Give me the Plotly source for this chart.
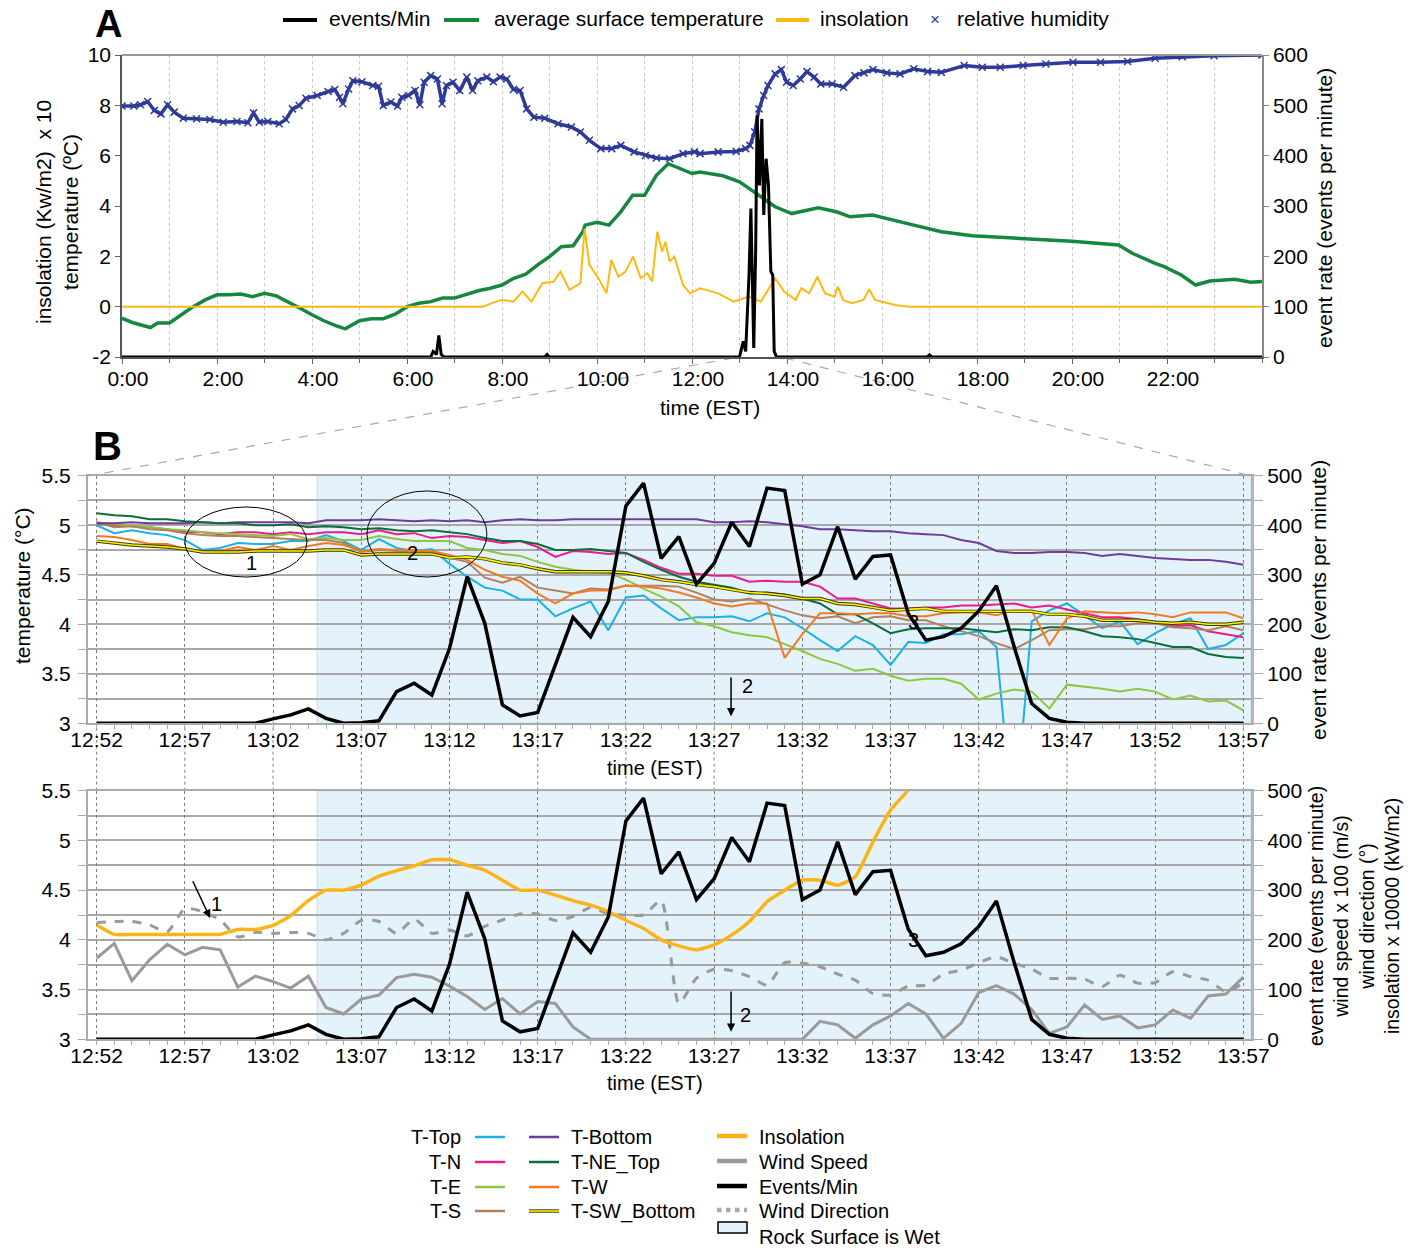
import plotly.graph_objects as go

FONT = "Liberation Sans, Arial, Helvetica, sans-serif"
W, H = 1412, 1248


def fx(x):
    return x / W


def fy(y):
    return 1 - y / H


# ---------------- Panel A data (hours since 0:00) ----------------
hum_h = [0, 0.25, 0.39, 0.54, 0.68, 0.82, 0.96, 1.1, 1.29, 1.57, 1.85, 2.13, 2.42, 2.65, 2.77, 2.89, 3.07, 3.31,
         3.45, 3.59, 3.73, 3.87, 4.11, 4.34, 4.48, 4.58, 4.65, 4.77, 4.86, 5.05, 5.28, 5.4, 5.5, 5.66, 5.8, 5.89,
         6.03, 6.17, 6.27, 6.36, 6.5, 6.64, 6.74, 6.83, 6.97, 7.11, 7.26, 7.38, 7.49, 7.68, 7.82, 7.96, 8.1, 8.24,
         8.38, 8.52, 8.67, 8.9, 9.18, 9.46, 9.65, 9.84, 10.08, 10.31, 10.5, 10.78, 11.02, 11.25, 11.53, 11.81,
         12.05, 12.17, 12.55, 12.93, 13.13, 13.22, 13.32, 13.41, 13.51, 13.6, 13.75, 13.88, 13.99, 14.13, 14.28,
         14.42, 14.57, 14.71, 14.95, 15.19, 15.43, 15.62, 15.81, 16.1, 16.38, 16.67, 16.96, 17.25, 17.73, 18.11,
         18.49, 18.97, 19.45, 20.02, 20.6, 21.17, 21.75, 22.32, 22.99, 24.0]
hum_v = [7.97, 7.97, 8.02, 8.15, 7.8, 7.66, 8.02, 7.73, 7.49, 7.47, 7.44, 7.33, 7.36, 7.31, 7.7, 7.33, 7.36, 7.27,
         7.44, 7.86, 7.99, 8.28, 8.39, 8.55, 8.63, 8.32, 8.06, 8.65, 8.98, 8.94, 8.79, 8.76, 7.99, 8.13, 7.97, 8.32,
         8.39, 8.59, 8.02, 8.92, 9.18, 9.05, 8.06, 8.79, 8.92, 8.59, 9.12, 8.59, 8.98, 9.12, 8.94, 9.12, 9.05, 8.63,
         8.59, 7.86, 7.53, 7.49, 7.27, 7.14, 6.94, 6.61, 6.28, 6.28, 6.41, 6.15, 6.01, 5.91, 5.88, 6.08, 6.15,
         6.08, 6.15, 6.17, 6.28, 6.41, 6.94, 7.86, 8.39, 8.79, 9.25, 9.42, 8.92, 8.79, 9.05, 9.34, 9.12, 8.85,
         8.85, 8.72, 9.18, 9.29, 9.42, 9.29, 9.25, 9.45, 9.34, 9.31, 9.58, 9.51, 9.51, 9.58, 9.64, 9.71, 9.71,
         9.74, 9.87, 9.93, 9.97, 10.0]

temp_h = [0, 0.25, 0.5, 0.6, 0.75, 1.0, 1.25, 1.5, 1.75, 2.0, 2.25, 2.5, 2.75, 3.0, 3.25, 3.5, 3.75, 4.0, 4.25,
          4.5, 4.7, 5.0, 5.25, 5.5, 5.75, 6.0, 6.25, 6.5, 6.75, 7.0, 7.25, 7.5, 7.75, 8.0, 8.25, 8.5, 8.75, 9.0,
          9.25, 9.5, 9.7, 9.75, 10.0, 10.25, 10.5, 10.75, 11.0, 11.25, 11.5, 11.75, 12.0, 12.17, 12.65, 13.0,
          13.2, 13.5, 13.75, 14.1, 14.47, 14.66, 15.04, 15.33, 15.8, 16.2, 16.67, 17.25, 17.9, 18.9, 20.0, 20.98,
          21.27, 21.75, 21.94, 22.3, 22.6, 22.9, 23.43, 23.76, 24.0]
temp_v = [-0.46, -0.65, -0.78, -0.83, -0.65, -0.65, -0.32, 0.0, 0.27, 0.47, 0.47, 0.5, 0.4, 0.53, 0.43, 0.2,
          -0.06, -0.32, -0.56, -0.75, -0.88, -0.56, -0.48, -0.48, -0.3, 0.0, 0.14, 0.2, 0.34, 0.34, 0.5, 0.63,
          0.73, 0.86, 1.13, 1.29, 1.66, 1.99, 2.38, 2.42, 2.98, 3.24, 3.35, 3.24, 3.77, 4.43, 4.43, 5.22, 5.68,
          5.49, 5.29, 5.35, 5.2, 4.96, 4.69, 4.3, 3.97, 3.7, 3.84, 3.93, 3.77, 3.57, 3.64, 3.44, 3.24, 2.98, 2.82,
          2.71, 2.6, 2.45, 2.12, 1.72, 1.59, 1.26, 0.86, 1.02, 1.09, 0.97, 1.0]

ins_h = [0, 7.6, 7.77, 8.0, 8.24, 8.43, 8.62, 8.85, 9.09, 9.23, 9.42, 9.65, 9.74, 9.84, 10.03, 10.2, 10.3, 10.45,
         10.6, 10.76, 10.92, 11.06, 11.16, 11.27, 11.37, 11.44, 11.53, 11.63, 11.81, 11.96, 12.17, 12.55, 12.88,
         13.2, 13.45, 13.75, 13.94, 14.18, 14.3, 14.47, 14.64, 14.8, 15.0, 15.07, 15.18, 15.37, 15.61, 15.73,
         15.85, 16.04, 16.28, 16.57, 24]
ins_v = [0, 0, 0.13, 0.27, 0.2, 0.6, 0.2, 0.93, 1.0, 1.39, 0.67, 0.93, 3.1, 1.66, 1.13, 0.53, 1.85, 1.19, 1.39,
         1.99, 1.13, 1.33, 1.0, 2.98, 2.18, 2.58, 1.79, 1.99, 0.86, 0.53, 0.73, 0.53, 0.2, 0.4, 0.2, 1.13, 0.6,
         0.27, 0.73, 0.53, 1.19, 0.53, 0.4, 0.8, 0.27, 0.14, 0.27, 0.69, 0.27, 0.18, 0.07, 0.0, 0.0]

evA_h = [0, 6.5, 6.55, 6.62, 6.67, 6.72, 6.78, 8.9, 8.95, 9.0, 13.0, 13.08, 13.13, 13.2, 13.24, 13.3, 13.34,
         13.37, 13.42, 13.47, 13.51, 13.56, 13.61, 13.66, 13.7, 13.73, 13.78, 16.95, 17.0, 17.05, 24]
evA_v = [0, 0, 11, 5, 43, 5, 0, 0, 5, 0, 0, 31, 11, 163, 295, 18, 209, 480, 341, 473, 282, 394, 341, 170, 163,
         11, 0, 0, 4, 0, 0]

hour_ticks = [0, 2, 4, 6, 8, 10, 12, 14, 16, 18, 20, 22]
hour_labels = ["0:00", "2:00", "4:00", "6:00", "8:00", "10:00", "12:00", "14:00", "16:00", "18:00", "20:00",
               "22:00"]

# ---------------- Panels B/C data (minutes after 12:52) ----------------
minutes = list(range(66))
minute_ticks = [0, 5, 10, 15, 20, 25, 30, 35, 40, 45, 50, 55, 60, 65]
minute_labels = ["12:52", "12:57", "13:02", "13:07", "13:12", "13:17", "13:22", "13:27", "13:32", "13:37",
                 "13:42", "13:47", "13:52", "13:57"]
wet_start = 12.5

t_top = [5.00, 4.92, 4.95, 4.92, 4.90, 4.85, 4.75, 4.77, 4.82, 4.81, 4.81,
         4.84, 4.84, 4.90, 4.84, 4.75, 4.86, 4.77, 4.74, 4.76, 4.61, 4.48,
         4.37, 4.34, 4.25, 4.25, 4.08, 4.16, 4.23, 3.94, 4.27, 4.29, 4.16,
         4.04, 4.07, 4.07, 4.08, 4.03, 4.11, 4.07, 3.96, 3.84, 3.73, 3.88,
         3.79, 3.59, 3.82, 3.81, 3.90, 3.90, 3.93, 3.77, 1.90, 4.03, 4.14,
         4.21, 4.09, 3.96, 4.03, 3.80, 3.91, 4.00, 4.06, 3.75, 3.79, 3.91]
t_n = [5.02, 5.00, 4.99, 4.98, 4.96, 4.93, 4.93, 4.91, 4.93, 4.93, 4.91,
       4.93, 4.91, 4.93, 4.93, 4.91, 4.95, 4.91, 4.92, 4.87, 4.89, 4.88,
       4.85, 4.82, 4.84, 4.78, 4.68, 4.74, 4.73, 4.71, 4.72, 4.65, 4.57,
       4.51, 4.51, 4.49, 4.49, 4.43, 4.44, 4.43, 4.43, 4.38, 4.26, 4.26,
       4.21, 4.16, 4.16, 4.17, 4.17, 4.19, 4.19, 4.20, 4.21, 4.17, 4.19,
       4.15, 4.11, 4.07, 4.07, 4.05, 4.02, 3.98, 3.99, 3.93, 3.90, 3.87]
t_e = [5.03, 5.01, 5.00, 4.98, 4.96, 4.95, 4.93, 4.92, 4.91, 4.90, 4.89,
       4.91, 4.86, 4.87, 4.85, 4.85, 4.89, 4.86, 4.84, 4.84, 4.84, 4.77,
       4.75, 4.71, 4.69, 4.63, 4.58, 4.55, 4.53, 4.52, 4.45, 4.36, 4.28,
       4.18, 4.02, 3.98, 3.92, 3.89, 3.87, 3.80, 3.73, 3.65, 3.60, 3.53,
       3.55, 3.48, 3.43, 3.45, 3.45, 3.40, 3.24, 3.30, 3.34, 3.32, 3.15,
       3.39, 3.37, 3.35, 3.32, 3.35, 3.32, 3.24, 3.28, 3.22, 3.23, 3.13]
t_s = [5.03, 4.98, 4.99, 4.96, 4.95, 4.92, 4.90, 4.89, 4.89, 4.88, 4.87,
       4.86, 4.85, 4.85, 4.82, 4.73, 4.75, 4.74, 4.74, 4.74, 4.67, 4.63,
       4.47, 4.42, 4.48, 4.37, 4.34, 4.31, 4.36, 4.35, 4.39, 4.39, 4.39,
       4.38, 4.32, 4.25, 4.23, 4.26, 4.20, 4.14, 4.09, 4.06, 4.08, 4.01,
       4.07, 4.08, 4.04, 4.04, 3.98, 3.93, 3.88, 3.81, 3.75, 3.84, 3.94,
       3.95, 3.95, 3.98, 3.98, 4.01, 4.01, 3.97, 3.96, 3.94, 3.98, 3.94]
t_bottom = [5.02, 5.02, 5.03, 5.02, 5.02, 5.02, 5.03, 5.02, 5.03, 5.03, 5.03,
            5.03, 5.02, 5.05, 5.05, 5.05, 5.06, 5.05, 5.04, 5.05, 5.04, 5.05,
            5.03, 5.05, 5.06, 5.05, 5.05, 5.06, 5.06, 5.06, 5.06, 5.06, 5.06,
            5.06, 5.06, 5.03, 5.03, 5.04, 5.03, 5.01, 4.99, 4.96, 4.96, 4.95,
            4.94, 4.94, 4.92, 4.91, 4.90, 4.85, 4.82, 4.74, 4.72, 4.72, 4.73,
            4.73, 4.72, 4.69, 4.71, 4.69, 4.67, 4.66, 4.65, 4.65, 4.63, 4.60]
t_ne_top = [5.12, 5.10, 5.09, 5.06, 5.06, 5.04, 5.03, 5.02, 5.02, 5.00, 5.00,
            5.01, 4.98, 4.99, 4.98, 4.96, 4.97, 4.95, 4.94, 4.95, 4.93, 4.91,
            4.87, 4.84, 4.84, 4.81, 4.75, 4.75, 4.76, 4.74, 4.72, 4.63, 4.55,
            4.48, 4.43, 4.40, 4.37, 4.31, 4.32, 4.30, 4.26, 4.21, 4.10, 4.10,
            4.01, 3.91, 3.95, 3.96, 3.96, 3.96, 3.94, 3.92, 3.95, 3.94, 3.97,
            3.97, 3.93, 3.88, 3.87, 3.85, 3.81, 3.77, 3.77, 3.70, 3.67, 3.66]
t_w = [4.89, 4.88, 4.85, 4.81, 4.81, 4.76, 4.74, 4.74, 4.78, 4.75, 4.79,
       4.75, 4.79, 4.82, 4.80, 4.74, 4.76, 4.75, 4.75, 4.74, 4.70, 4.65,
       4.55, 4.48, 4.44, 4.31, 4.21, 4.31, 4.34, 4.34, 4.39, 4.38, 4.36,
       4.32, 4.27, 4.21, 4.18, 4.21, 4.21, 3.66, 3.90, 4.11, 4.11, 4.10,
       4.11, 4.11, 4.08, 4.08, 4.11, 4.12, 4.12, 4.09, 4.14, 4.14, 3.79,
       4.06, 4.13, 4.12, 4.11, 4.12, 4.10, 4.07, 4.12, 4.12, 4.12, 4.06]
t_sw_bottom = [4.84, 4.82, 4.80, 4.79, 4.78, 4.76, 4.73, 4.73, 4.73, 4.74, 4.74,
               4.74, 4.74, 4.75, 4.75, 4.70, 4.71, 4.71, 4.71, 4.71, 4.67, 4.68,
               4.66, 4.62, 4.60, 4.56, 4.53, 4.53, 4.53, 4.53, 4.52, 4.49, 4.45,
               4.43, 4.40, 4.38, 4.35, 4.32, 4.31, 4.29, 4.26, 4.26, 4.21, 4.20,
               4.17, 4.14, 4.15, 4.16, 4.13, 4.13, 4.13, 4.13, 4.13, 4.13, 4.10,
               4.10, 4.08, 4.04, 4.04, 4.04, 4.02, 4.01, 4.02, 4.00, 4.00, 4.02]
events = [0, 0, 0, 0, 0, 0, 0, 0, 0, 0, 9,
          17, 29, 10, 0, 1, 5, 64, 81, 57, 151, 296,
          202, 37, 15, 22, 118, 214, 175, 246, 439, 485, 333,
          377, 281, 323, 406, 357, 475, 470, 281, 300, 397, 291,
          337, 340, 222, 168, 175, 192, 227, 278, 155, 40, 10,
          2, 0, 0, 0, 0, 0, 0, 0, 0, 0, 0]
wind_speed = [163, 193, 118, 160, 191, 170, 185, 180, 105, 127, 116,
              103, 127, 64, 51, 81, 89, 124, 131, 125, 107, 86,
              60, 82, 51, 76, 72, 25, 0, 0, 0, 0, 0,
              0, 0, 0, 0, 0, 0, 0, 0, 36, 29, 2,
              29, 47, 72, 51, 2, 32, 94, 108, 91, 60, 12,
              25, 69, 40, 47, 23, 29, 59, 42, 87, 91, 125]
wind_dir = [235, 237, 237, 230, 216, 263, 257, 240, 206, 215, 213,
            215, 213, 200, 213, 239, 237, 213, 242, 213, 220, 208,
            227, 240, 252, 252, 239, 247, 265, 252, 250, 250, 279,
            72, 123, 141, 138, 126, 109, 154, 153, 146, 131, 119,
            92, 89, 107, 109, 131, 139, 154, 166, 153, 141, 123,
            123, 121, 106, 129, 113, 114, 136, 126, 119, 96, 113]
insol_c = [230, 211, 211, 211, 211, 211, 211, 211, 221, 221, 229,
           249, 279, 300, 300, 310, 328, 339, 349, 361, 361, 350,
           340, 320, 300, 300, 290, 279, 270, 257, 239, 223, 200,
           188, 180, 190, 210, 237, 277, 300, 320, 320, 310, 327,
           397, 461, 502, 580, None, None, None, None, None, None, None,
           None, None, None, None, None, None, None, None, None, None, None]

temp_series = [
    ("T-Top", t_top, "#1cb0e6"),
    ("T-N", t_n, "#ec1c8c"),
    ("T-E", t_e, "#8dc63f"),
    ("T-S", t_s, "#b08160"),
    ("T-Bottom", t_bottom, "#6f3c9c"),
    ("T-NE_Top", t_ne_top, "#0b6e3a"),
    ("T-W", t_w, "#f27b21"),
]

# colours
C_HUM = "#2e3a97"
C_GREEN = "#16873f"
C_YEL = "#fdb913"
C_GRAY = "#9a9a9a"
C_WET = "#e4f3fb"
GRID = "#a8a8a8"

fig = go.Figure()

# ---- Panel A ----
fig.add_trace(go.Scatter(x=hum_h, y=hum_v, mode="lines+markers", xaxis="x", yaxis="y",
                         line=dict(color=C_HUM, width=3.5),
                         marker=dict(symbol="x-thin", size=7, line=dict(color=C_HUM, width=1.5)),
                         name="relative humidity"))
fig.add_trace(go.Scatter(x=temp_h, y=temp_v, mode="lines", xaxis="x", yaxis="y",
                         line=dict(color=C_GREEN, width=3.5), name="average surface temperature"))
fig.add_trace(go.Scatter(x=ins_h, y=ins_v, mode="lines", xaxis="x", yaxis="y",
                         line=dict(color=C_YEL, width=2), name="insolation"))
fig.add_trace(go.Scatter(x=evA_h, y=evA_v, mode="lines", xaxis="x", yaxis="y2",
                         line=dict(color="black", width=3), name="events/Min"))

# ---- Panel B ----
for name, vals, col in temp_series:
    fig.add_trace(go.Scatter(x=minutes, y=vals, mode="lines", xaxis="x2", yaxis="y3",
                             line=dict(color=col, width=2), name=name))
fig.add_trace(go.Scatter(x=minutes, y=t_sw_bottom, mode="lines", xaxis="x2", yaxis="y3",
                         line=dict(color="#3a3a00", width=3.4), hoverinfo="skip", name="T-SW_Bottom edge"))
fig.add_trace(go.Scatter(x=minutes, y=t_sw_bottom, mode="lines", xaxis="x2", yaxis="y3",
                         line=dict(color="#fff200", width=1.6), name="T-SW_Bottom"))
fig.add_trace(go.Scatter(x=minutes, y=events, mode="lines", xaxis="x2", yaxis="y4",
                         line=dict(color="black", width=3.5), name="Events/Min"))

# ---- Panel C ----
fig.add_trace(go.Scatter(x=[], y=[], xaxis="x3", yaxis="y5", showlegend=False))
fig.add_trace(go.Scatter(x=minutes, y=wind_dir, mode="lines", xaxis="x3", yaxis="y6",
                         line=dict(color=C_GRAY, width=3, dash="dash", shape="spline", smoothing=0.6),
                         name="Wind Direction"))
fig.add_trace(go.Scatter(x=minutes, y=wind_speed, mode="lines", xaxis="x3", yaxis="y6",
                         line=dict(color=C_GRAY, width=3), name="Wind Speed"))
fig.add_trace(go.Scatter(x=minutes, y=insol_c, mode="lines", xaxis="x3", yaxis="y6",
                         line=dict(color="#fbb415", width=3.5, shape="spline", smoothing=0.5),
                         name="Insolation"))
fig.add_trace(go.Scatter(x=minutes, y=events, mode="lines", xaxis="x3", yaxis="y6",
                         line=dict(color="black", width=3.5), name="Events/Min"))

TF = dict(family=FONT, size=21, color="black")

A_x = [fx(122), fx(1262)]
A_y = [fy(357), fy(55)]
B_x = [fx(88), fx(1251)]
B_y = [fy(723.3), fy(475.7)]
C_y = [fy(1039.3), fy(790.7)]
XR = [-0.49, 65.43]


def time_axis(domain, anchor):
    return dict(domain=domain, anchor=anchor, range=XR, tickmode="array", tickvals=minute_ticks,
                ticktext=minute_labels, showgrid=True, gridcolor="#7c7c7c", griddash="dot", gridwidth=1,
                ticks="outside", ticklen=4, tickcolor="#aaaaaa", ticklabelstandoff=-8,
                minor=dict(tickmode="linear", tick0=0, dtick=1, ticks="outside", ticklen=4,
                           tickcolor="#aaaaaa", showgrid=False),
                showline=True, mirror=True, linecolor="#aaaaaa", linewidth=2, zeroline=False,
                tickfont=TF, fixedrange=True, automargin=False)


def temp_axis(domain, anchor):
    return dict(domain=domain, anchor=anchor, range=[3, 5.5], tickmode="array",
                tickvals=[3, 3.5, 4, 4.5, 5, 5.5], ticktext=["3", "3.5", "4", "4.5", "5", "5.5"],
                showgrid=True, gridcolor=GRID, gridwidth=1.5,
                minor=dict(tickmode="linear", tick0=3, dtick=0.25, showgrid=True, gridcolor=GRID,
                           gridwidth=1.5, ticks="outside", ticklen=8, tickcolor=GRID),
                ticks="outside", ticklen=8, tickcolor=GRID, ticklabelstandoff=3, showline=True,
                linecolor="#aaaaaa", linewidth=2, zeroline=False, tickfont=TF, fixedrange=True,
                automargin=False)


def rate_axis(over, anchor):
    return dict(overlaying=over, side="right", anchor=anchor, range=[0, 500], tickmode="array",
                tickvals=[0, 100, 200, 300, 400, 500], showgrid=False, zeroline=False,
                ticks="outside", ticklen=9, tickcolor=GRID,
                minor=dict(tickmode="linear", tick0=0, dtick=50, ticks="outside", ticklen=9,
                           tickcolor=GRID, showgrid=False),
                showline=True, linecolor="#b4b4b4", linewidth=3, tickfont=TF, fixedrange=True,
                automargin=False)


fig.update_layout(
    width=W, height=H, margin=dict(l=0, r=0, t=0, b=0, pad=0, autoexpand=False),
    paper_bgcolor="white", plot_bgcolor="white", showlegend=False,
    font=dict(family=FONT, size=21, color="black"),
    xaxis=dict(domain=A_x, anchor="y", range=[0, 24], tickmode="array", tickvals=hour_ticks,
               ticktext=hour_labels, showgrid=True, gridcolor="#c4c4c4", griddash="dot", gridwidth=1,
               minor=dict(tickmode="linear", tick0=0, dtick=1, showgrid=True, gridcolor="#c4c4c4",
                          griddash="dot", ticks="outside", ticklen=4, tickcolor="#666666"),
               ticks="outside", ticklen=5, tickcolor="#666666", showline=True, linecolor="#555555",
               linewidth=1.5, zeroline=False, tickfont=TF, ticklabelshift=6, ticklabelstandoff=-3,
               fixedrange=True, automargin=False),
    yaxis=dict(domain=A_y, anchor="x", range=[-2, 10], tickmode="array",
               tickvals=[-2, 0, 2, 4, 6, 8, 10], ticktext=["-2", "0", "2", "4", "6", "8", "10"],
               showgrid=False, zeroline=False, showline=True, linecolor="#555555", linewidth=1.5,
               ticks="outside", ticklen=5, tickcolor="#666666", tickfont=TF, fixedrange=True,
               automargin=False),
    yaxis2=dict(overlaying="y", side="right", anchor="x", range=[0, 600], tickmode="array",
                tickvals=[0, 100, 200, 300, 400, 500, 600], showgrid=False, zeroline=False,
                showline=True, linecolor="#888888", linewidth=1.5, ticks="outside", ticklen=5,
                tickcolor="#888888", tickfont=TF, fixedrange=True, automargin=False),
    xaxis2=time_axis(B_x, "y3"),
    yaxis3=temp_axis(B_y, "x2"),
    yaxis4=rate_axis("y3", "x2"),
    xaxis3=time_axis(B_x, "y5"),
    yaxis5=temp_axis(C_y, "x3"),
    yaxis6=rate_axis("y5", "x3"),
)

shapes = []
# top border of panel A
shapes.append(dict(type="line", xref="paper", yref="paper", x0=fx(122), x1=fx(1262), y0=fy(55), y1=fy(55),
                   line=dict(color="#999999", width=2)))
# zoom connector lines
shapes.append(dict(type="line", xref="paper", yref="paper", x0=fx(733), y0=fy(358), x1=fx(88), y1=fy(476),
                   line=dict(color="#aaaaaa", width=1.2, dash="dash"), layer="below"))
shapes.append(dict(type="line", xref="paper", yref="paper", x0=fx(785), y0=fy(358), x1=fx(1251), y1=fy(476),
                   line=dict(color="#aaaaaa", width=1.2, dash="dash"), layer="below"))
# wet-surface shading
for xr, yr in (("x2", "y3"), ("x3", "y5")):
    shapes.append(dict(type="rect", xref=xr, yref=yr, x0=wet_start, x1=XR[1], y0=3, y1=5.5,
                       fillcolor=C_WET, line=dict(color="#c4dbe8", width=1), layer="below"))
# dotted time gridlines continuing between panels B and C
for m in minute_ticks:
    shapes.append(dict(type="line", xref="x2", yref="paper", x0=m, x1=m, y0=fy(790.7), y1=fy(723.3),
                       line=dict(color="#7c7c7c", width=1, dash="dot"), layer="below"))
# ellipses in panel B
shapes.append(dict(type="circle", xref="x2", yref="y3", x0=5.0, x1=11.92, y0=4.477, y1=5.184,
                   line=dict(color="black", width=1)))
shapes.append(dict(type="circle", xref="x2", yref="y3", x0=15.32, x1=22.12, y0=4.477, y1=5.346,
                   line=dict(color="black", width=1)))

annotations = []


def txt(x, y, text, size=21, xanchor="center", angle=0, color="black"):
    annotations.append(dict(x=fx(x), y=fy(y), xref="paper", yref="paper", text=text, showarrow=False,
                            xanchor=xanchor, yanchor="middle", textangle=angle,
                            font=dict(family=FONT, size=size, color=color)))


# panel letters
annotations.append(dict(x=fx(108), y=fy(24), xref="paper", yref="paper", text="<b>A</b>", showarrow=False,
                        xanchor="center", yanchor="middle", font=dict(family=FONT, size=38, color="black")))
annotations.append(dict(x=fx(107), y=fy(446), xref="paper", yref="paper", text="<b>B</b>", showarrow=False,
                        xanchor="center", yanchor="middle", font=dict(family=FONT, size=40, color="black")))

# axis titles
txt(57, 212, "insolation (Kw/m2)  x 10<br>temperature (ºC)", angle=-90)
txt(1325, 208, "event rate (events per minute)", angle=-90)
txt(710, 407, "time (EST)")
txt(22, 586, "temperature (°C)", angle=-90)
txt(1318, 600, "event rate (events per minute)", angle=-90)
txt(655, 768, "time (EST)", size=20)
txt(1354, 916, "event rate (events per minute)<br>wind speed x 100 (m/s)<br>wind direction (°)<br>"
    "insolation x 10000 (kW/m2)", size=19.5, angle=-90)
txt(655, 1083, "time (EST)", size=20)

# legend of panel A (top)
legA = [(283, 317, "black", "events/Min", 327), (444, 479, C_GREEN, "average surface temperature", 492),
        (776, 809, C_YEL, "insolation", 818)]
for x0, x1, col, label, tx in legA:
    shapes.append(dict(type="line", xref="paper", yref="paper", x0=fx(x0), x1=fx(x1), y0=fy(20), y1=fy(20),
                       line=dict(color=col, width=4)))
    txt(tx, 19, label, xanchor="left")
txt(935, 20, "×", size=17, color=C_HUM)
txt(955, 19, "relative humidity", xanchor="left")


# panel B / C in-plot labels and arrows
def dtxt(x, y, text, xr, yr, size=20):
    annotations.append(dict(x=x, y=y, xref=xr, yref=yr, text=text, showarrow=False, xanchor="center",
                            yanchor="middle", font=dict(family=FONT, size=size, color="black")))


def arrow(xh, yh, xt, yt, xr, yr):
    annotations.append(dict(x=xh, y=yh, ax=xt, ay=yt, xref=xr, yref=yr, axref=xr, ayref=yr, text="",
                            showarrow=True, arrowhead=2, arrowsize=1.1, arrowwidth=1.5,
                            arrowcolor="black", standoff=0, startstandoff=0))


dtxt(8.75, 4.62, "1", "x2", "y3")
dtxt(17.88, 4.72, "2", "x2", "y3")
dtxt(46.3, 4.02, "3", "x2", "y3")
arrow(35.96, 3.07, 35.96, 3.478, "x2", "y3")
dtxt(36.87, 3.375, "2", "x2", "y3")
arrow(6.43, 244, 5.41, 321, "x3", "y6")
dtxt(6.77, 273, "1", "x3", "y6")
arrow(35.96, 15, 35.96, 99, "x3", "y6")
dtxt(36.75, 49, "2", "x3", "y6")
dtxt(46.3, 200, "3", "x3", "y6")

# bottom legend
rows = [1137, 1162, 1187, 1211]
col1 = [("T-Top", "#1cb0e6"), ("T-N", "#ec1c8c"), ("T-E", "#8dc63f"), ("T-S", "#b08160")]
for (label, col), yy in zip(col1, rows):
    txt(463, yy, label, size=20, xanchor="right")
    shapes.append(dict(type="line", xref="paper", yref="paper", x0=fx(475), x1=fx(505), y0=fy(yy), y1=fy(yy),
                       line=dict(color=col, width=2.5)))
col2 = [("T-Bottom", "#6f3c9c"), ("T-NE_Top", "#0b6e3a"), ("T-W", "#f27b21"), ("T-SW_Bottom", None)]
for (label, col), yy in zip(col2, rows):
    txt(569, yy, label, size=20, xanchor="left")
    if col is None:
        shapes.append(dict(type="line", xref="paper", yref="paper", x0=fx(529), x1=fx(559), y0=fy(yy),
                           y1=fy(yy), line=dict(color="#3a3a00", width=3.4)))
        shapes.append(dict(type="line", xref="paper", yref="paper", x0=fx(529), x1=fx(559), y0=fy(yy),
                           y1=fy(yy), line=dict(color="#fff200", width=1.6)))
    else:
        shapes.append(dict(type="line", xref="paper", yref="paper", x0=fx(529), x1=fx(559), y0=fy(yy),
                           y1=fy(yy), line=dict(color=col, width=2.5)))
col3 = [("Insolation", "#fbb415", "solid"), ("Wind Speed", C_GRAY, "solid"), ("Events/Min", "black", "solid"),
        ("Wind Direction", "#aaaaaa", "dot")]
for (label, col, dash), yy in zip(col3, rows):
    txt(757, yy, label, size=20, xanchor="left")
    shapes.append(dict(type="line", xref="paper", yref="paper", x0=fx(717), x1=fx(747), y0=fy(yy - 1),
                       y1=fy(yy - 1), line=dict(color=col, width=4.5, dash=dash)))
shapes.append(dict(type="rect", xref="paper", yref="paper", x0=fx(718), x1=fx(747), y0=fy(1233), y1=fy(1222),
                   fillcolor=C_WET, line=dict(color="black", width=1.5)))
txt(757, 1237, "Rock Surface is Wet", size=20, xanchor="left")

fig.update_layout(shapes=shapes, annotations=annotations)

fig.write_html("out.html", config={"displayModeBar": False})
